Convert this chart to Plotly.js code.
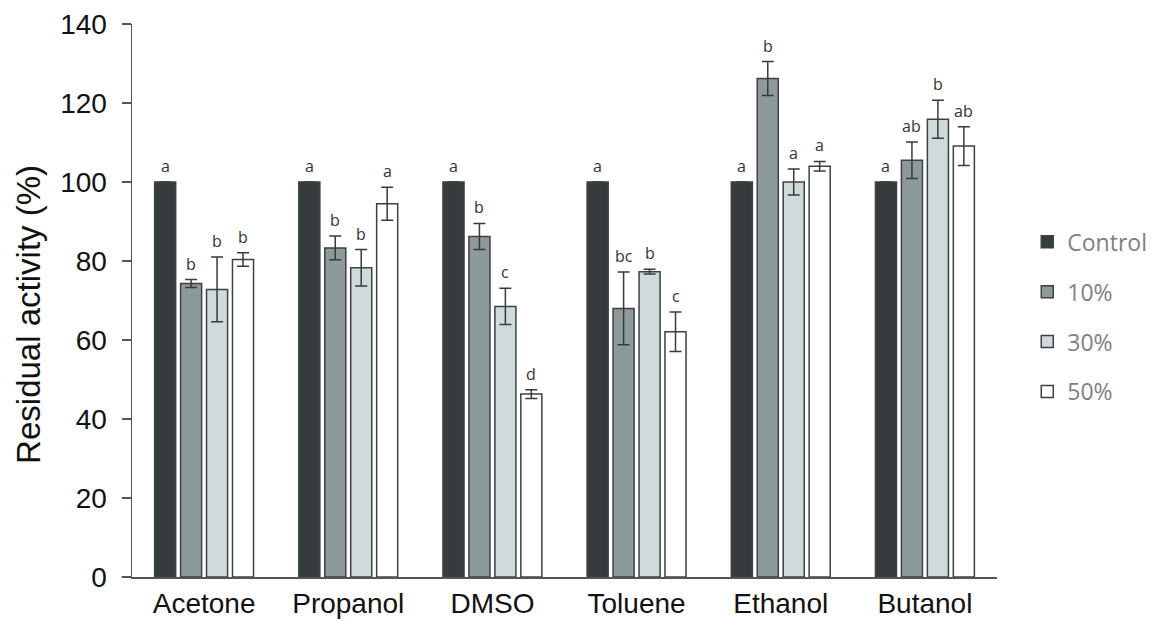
<!DOCTYPE html>
<html>
<head>
<meta charset="utf-8">
<script src="https://cdn.plot.ly/plotly-3.0.1.min.js"></script>
<style>
html,body{margin:0;padding:0;background:#fff;}
#chart{width:1151px;height:622px;}
</style>
</head>
<body>
<div id="chart"></div>
<script>
// ---- data ----
const categories = ["Acetone", "Propanol", "DMSO", "Toluene", "Ethanol", "Butanol"];
const seriesNames = ["Control", "10%", "30%", "50%"];

const control = [100, 100, 100, 100, 100, 100];
const pct10   = [74.3, 83.3, 86.2, 68.0, 126.2, 105.5];
const pct30   = [72.8, 78.3, 68.5, 77.3, 100.0, 115.9];
const pct50   = [80.4, 94.5, 46.3, 62.1, 104.0, 109.1];

const errControl = [0, 0, 0, 0, 0, 0];
const err10      = [1.0, 3.0, 3.3, 9.2, 4.3, 4.6];
const err30      = [8.2, 4.6, 4.6, 0.6, 3.3, 4.8];
const err50      = [1.7, 4.2, 1.1, 5.0, 1.2, 4.9];

const lettersControl = ["a", "a", "a", "a", "a", "a"];
const letters10      = ["b", "b", "b", "bc", "b", "ab"];
const letters30      = ["b", "b", "c", "b", "a", "b"];
const letters50      = ["b", "a", "d", "c", "a", "ab"];

// ---- styling ----
const values  = [control, pct10, pct30, pct50];
const errors  = [errControl, err10, err30, err50];
const letters = [lettersControl, letters10, letters30, letters50];
const colors  = ["#363c3d", "#8d999a", "#cfdadb", "#ffffff"];
const pitch = 0.18, barWidth = 0.146;

const traces = [];
const annotations = [];
seriesNames.forEach((name, k) => {
  const xs = categories.map((c, i) => i + (k - 1.5) * pitch);
  traces.push({
    type: "bar",
    name: name,
    x: xs,
    y: values[k],
    width: barWidth,
    legendgroup: "g" + k,
    marker: {color: colors[k], line: {color: "#3c4142", width: 1.5}},
    error_y: {
      type: "data",
      array: errors[k],
      visible: true,
      color: "#3a3a3a",
      thickness: 1.5,
      width: 6
    },
    hoverinfo: "y"
  });
  xs.forEach((x, i) => {
    annotations.push({
      x: x, y: values[k][i] + errors[k][i],
      xref: "x", yref: "y",
      text: letters[k][i],
      showarrow: false,
      yanchor: "bottom",
      yshift: 3,
      font: {family: "Open Sans, sans-serif", size: 16, color: "#333333"}
    });
  });
});

annotations.push({
  text: "Residual activity (%)",
  xref: "paper", yref: "paper",
  x: 0, y: 0.474,
  xshift: -103,
  textangle: -90,
  showarrow: false,
  xanchor: "center", yanchor: "middle",
  font: {family: "Liberation Sans, Arial, sans-serif", size: 33, color: "#111111"}
});

const layout = {
  width: 1151,
  height: 622,
  margin: {l: 132, r: 154, t: 24, b: 45, autoexpand: false},
  paper_bgcolor: "#ffffff",
  plot_bgcolor: "#ffffff",
  barmode: "overlay",
  showlegend: true,
  legend: {
    x: 1.035, y: 0.645, xanchor: "left", yanchor: "top",
    font: {family: "Open Sans, sans-serif", size: 23, color: "#808080"},
    tracegroupgap: 17,
    itemwidth: 30,
    bgcolor: "rgba(0,0,0,0)"
  },
  xaxis: {
    range: [-0.5, 5.5],
    tickmode: "array",
    tickvals: categories.map((c, i) => i),
    ticktext: categories,
    ticks: "",
    ticklabelstandoff: 1,
    showline: true,
    linecolor: "#555555",
    linewidth: 1.5,
    showgrid: false,
    zeroline: false,
    tickfont: {family: "Liberation Sans, Arial, sans-serif", size: 28, color: "#111111"},
    fixedrange: true
  },
  yaxis: {
    range: [0, 140],
    dtick: 20,
    ticks: "outside",
    ticklen: 9,
    tickwidth: 1.5,
    tickcolor: "#555555",
    ticklabelstandoff: 9,
    showline: true,
    linecolor: "#555555",
    linewidth: 1.5,
    showgrid: false,
    zeroline: false,
    tickfont: {family: "Liberation Sans, Arial, sans-serif", size: 28, color: "#111111"},
    fixedrange: true
  },
  annotations: annotations,
  shapes: [{
    type: "line", xref: "paper", yref: "paper",
    x0: -0.012, x1: 0, y0: 0, y1: 0,
    line: {color: "#555555", width: 1.5}
  }]
};

Plotly.newPlot("chart", traces, layout, {displayModeBar: false, staticPlot: true});
</script>
</body>
</html>
